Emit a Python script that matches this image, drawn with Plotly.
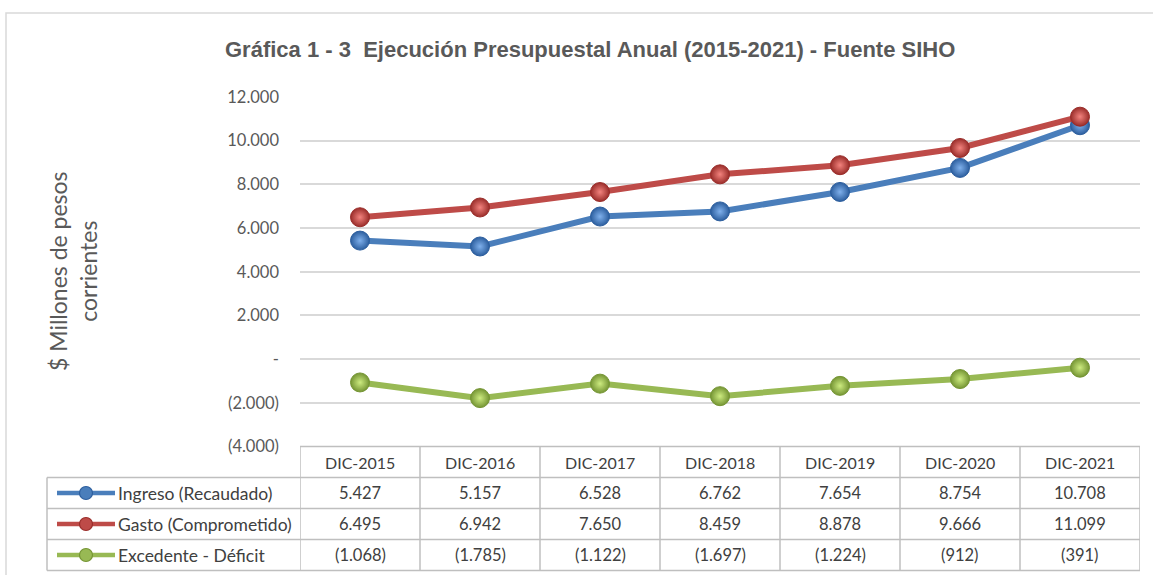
import plotly.graph_objects as go

categories = ["DIC-2015", "DIC-2016", "DIC-2017", "DIC-2018", "DIC-2019", "DIC-2020", "DIC-2021"]
ingreso = [5427, 5157, 6528, 6762, 7654, 8754, 10708]
gasto = [6495, 6942, 7650, 8459, 8878, 9666, 11099]
excedente = [-1068, -1785, -1122, -1697, -1224, -912, -391]
series_names = ["Ingreso (Recaudado)", "Gasto (Comprometido)", "Excedente - Déficit"]
y_tickvals = [-4000, -2000, 0, 2000, 4000, 6000, 8000, 10000, 12000]
y_ticktext = ["(4.000)", "(2.000)", "-", "2.000", "4.000", "6.000", "8.000", "10.000", "12.000"]
title_text = "Gráfica 1 - 3  Ejecución Presupuestal Anual (2015-2021) - Fuente SIHO"
y_title = "$ Millones de pesos<br>corrientes"

line_colors = ["#4A7EBB", "#BE4B48", "#98B954"]
center_colors = ["#7FB0EC", "#F3837E", "#CDEB80"]
edge_colors = ["#2C5E9E", "#9A2D2A", "#759534"]

W, H = 1153, 575
ML, MR, MT, MB = 300, 13, 97, 4
PW, PH = W - ML - MR, H - MT - MB
ROW = 31

def px_x(px):
    return (px - ML) / PW

def px_y(py):
    return (H - MB - py) / PH

def fmt(v):
    s = f"{abs(v):,}".replace(",", ".")
    return f"({s})" if v < 0 else s

yd = px_y(446.5)
data = [ingreso, gasto, excedente]

fig = go.Figure()
for i, vals in enumerate(data):
    fig.add_trace(go.Scatter(
        x=categories, y=vals, name=series_names[i], mode="lines+markers",
        line=dict(color=line_colors[i], width=6),
        marker=dict(size=19, color=edge_colors[i],
                    gradient=dict(type="radial", color=center_colors[i]),
                    line=dict(color=edge_colors[i], width=1)),
        showlegend=False, cliponaxis=False, hoverinfo="skip"))

shapes = []
grid_c = "#BFBFBF"
shapes.append(dict(type="rect", xref="paper", yref="paper", x0=px_x(6), x1=px_x(1165),
                   y0=px_y(590), y1=px_y(13), line=dict(color="#D9D9D9", width=1.5)))
top_t = 446.5
shapes.append(dict(type="line", xref="paper", yref="paper", x0=0, x1=1, y0=px_y(top_t), y1=px_y(top_t),
                   line=dict(color=grid_c, width=1.5)))
for k in range(1, 5):
    yy = px_y(top_t + k * ROW)
    shapes.append(dict(type="line", xref="paper", yref="paper", x0=px_x(47), x1=1, y0=yy, y1=yy,
                       line=dict(color=grid_c, width=1.5)))
for i in range(len(categories) + 1):
    shapes.append(dict(type="line", xref="x", yref="paper", x0=i - 0.5, x1=i - 0.5,
                       y0=px_y(top_t + 4 * ROW), y1=px_y(top_t), line=dict(color=grid_c, width=1.5)))
shapes.append(dict(type="line", xref="paper", yref="paper", x0=px_x(47), x1=px_x(47),
                   y0=px_y(top_t + 4 * ROW), y1=px_y(top_t + ROW), line=dict(color=grid_c, width=1.5)))

annotations = []
font_body = "Lato, 'Liberation Sans', sans-serif"
txt_c = "#404040"
for i, c in enumerate(categories):
    annotations.append(dict(xref="x", yref="paper", x=i, y=px_y(top_t + ROW / 2), text=c,
                            xanchor="center", yanchor="middle",
                            showarrow=False, font=dict(family=font_body, size=16, color=txt_c)))
for r, vals in enumerate(data):
    yc = px_y(top_t + ROW * (r + 1) + ROW / 2)
    for i, v in enumerate(vals):
        annotations.append(dict(xref="x", yref="paper", x=i, y=yc, text=fmt(v),
                                xanchor="center", yanchor="middle",
                                showarrow=False, font=dict(family=font_body, size=16.5, color=txt_c)))
    annotations.append(dict(xref="paper", yref="paper", x=px_x(116), y=yc, xanchor="left",
                            yanchor="middle", text=series_names[r], showarrow=False,
                            font=dict(family=font_body, size=17.5, color=txt_c)))
    shapes.append(dict(type="line", xref="paper", yref="paper", x0=px_x(57), x1=px_x(115),
                       y0=yc, y1=yc, line=dict(color=line_colors[r], width=4.5)))
    shapes.append(dict(type="circle", xref="paper", yref="paper", xsizemode="pixel", ysizemode="pixel",
                       xanchor=px_x(86), yanchor=yc, x0=-6.5, x1=6.5, y0=-6.5, y1=6.5,
                       fillcolor=line_colors[r], line=dict(color=edge_colors[r], width=1.2)))

annotations.append(dict(xref="paper", yref="paper", x=px_x(590), y=px_y(50), text=f"<b>{title_text}</b>",
                        showarrow=False, xanchor="center", yanchor="middle",
                        font=dict(family="'Liberation Sans Narrow', 'Arial Narrow', 'Liberation Sans', sans-serif",
                                  size=22, color="#595959")))
annotations.append(dict(xref="paper", yref="paper", x=px_x(73), y=px_y(271), text=y_title,
                        textangle=-90, showarrow=False, xanchor="center", yanchor="middle",
                        font=dict(family=font_body, size=23, color="#595959")))

fig.update_layout(
    template="none",
    width=W, height=H, autosize=False, margin=dict(l=ML, r=MR, t=MT, b=MB, pad=0, autoexpand=False),
    paper_bgcolor="white", plot_bgcolor="white",
    xaxis=dict(type="category", categoryorder="array", categoryarray=categories,
               range=[-0.5, len(categories) - 0.5], showticklabels=False, showgrid=False,
               zeroline=False, showline=False, ticks="", automargin=False),
    yaxis=dict(domain=[yd, 1], range=[-4000, 12000], tickvals=y_tickvals, ticktext=y_ticktext,
               showgrid=True, gridcolor="#D9D9D9", gridwidth=1.5, zeroline=False, showline=False,
               ticks="", ticklabelstandoff=20, automargin=False,
               tickfont=dict(family=font_body, size=16.5, color="#595959")),
    shapes=shapes, annotations=annotations, showlegend=False,
)
fig.write_html("out.html", config={"displayModeBar": False, "responsive": False},
               post_script="document.body.style.margin='0';document.body.style.overflow='hidden';")
